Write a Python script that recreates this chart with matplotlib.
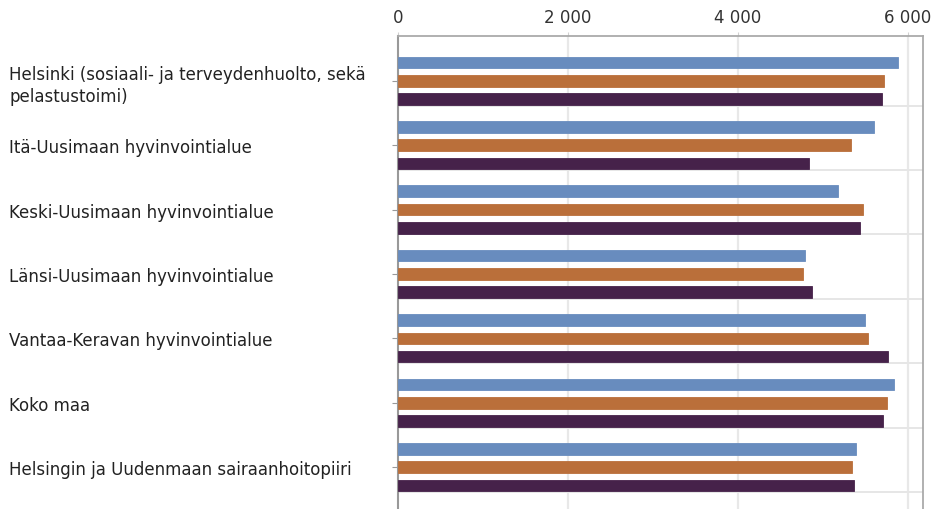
import matplotlib
matplotlib.use("Agg")
import matplotlib.pyplot as plt
from matplotlib.ticker import FuncFormatter

plt.rcParams["font.family"] = ["DejaVu Sans"]

categories = [
    "Helsinki (sosiaali- ja terveydenhuolto, sekä\npelastustoimi)",
    "Itä-Uusimaan hyvinvointialue",
    "Keski-Uusimaan hyvinvointialue",
    "Länsi-Uusimaan hyvinvointialue",
    "Vantaa-Keravan hyvinvointialue",
    "Koko maa",
    "Helsingin ja Uudenmaan sairaanhoitopiiri",
]
series_a = [5886, 5604, 5173, 4788, 5494, 5835, 5392]
series_b = [5721, 5329, 5471, 4769, 5533, 5749, 5345]
series_c = [5694, 4835, 5431, 4867, 5768, 5702, 5361]
xticks = [0, 2000, 4000, 6000]

colors = ["#688cbe", "#ba6f3a", "#46224a"]

fig = plt.figure(figsize=(9.33, 5.10), dpi=100)
ax = fig.add_axes([398 / 933, 0.0, (922.7 - 398) / 933, 1 - 36.7 / 510])

offset = 0.284
height = 0.18
ypos = list(range(len(categories)))
for k, (vals, col) in enumerate(zip([series_a, series_b, series_c], colors)):
    ax.barh([y + (k - 1) * offset for y in ypos], vals, height=height,
            color=col, edgecolor=col, linewidth=0.6, zorder=3)

ax.set_xlim(0, 6173)
ax.set_ylim(6.65, -0.70)

fs = 12.0
ax.xaxis.tick_top()
ax.set_xticks(xticks)
ax.xaxis.set_major_formatter(FuncFormatter(lambda v, p: f"{v:,.0f}".replace(",", " ")))
ax.tick_params(axis="x", direction="out", length=3, color="#d0d0d0", pad=4,
               labelsize=fs, labelcolor="#333333")

ax.set_yticks(ypos)
ax.set_yticklabels(categories, ha="left", linespacing=1.3)
ax.tick_params(axis="y", direction="out", length=4, color="#999999",
               pad=(398 - 11 - 4) * 0.72, labelsize=fs, labelcolor="#222222")

for x in xticks[1:]:
    ax.axvline(x, color="#e8e8e8", linewidth=1.6, zorder=1)
for y in ypos:
    ax.axhline(y + 0.385, color="#e6e6e6", linewidth=1.4, zorder=1)

for side in ["top", "right"]:
    ax.spines[side].set_color("#aaaaaa")
    ax.spines[side].set_linewidth(1.3)
ax.spines["left"].set_color("#999999")
ax.spines["left"].set_linewidth(1.5)
ax.spines["bottom"].set_visible(False)

fig.savefig("out.png", dpi=100)
